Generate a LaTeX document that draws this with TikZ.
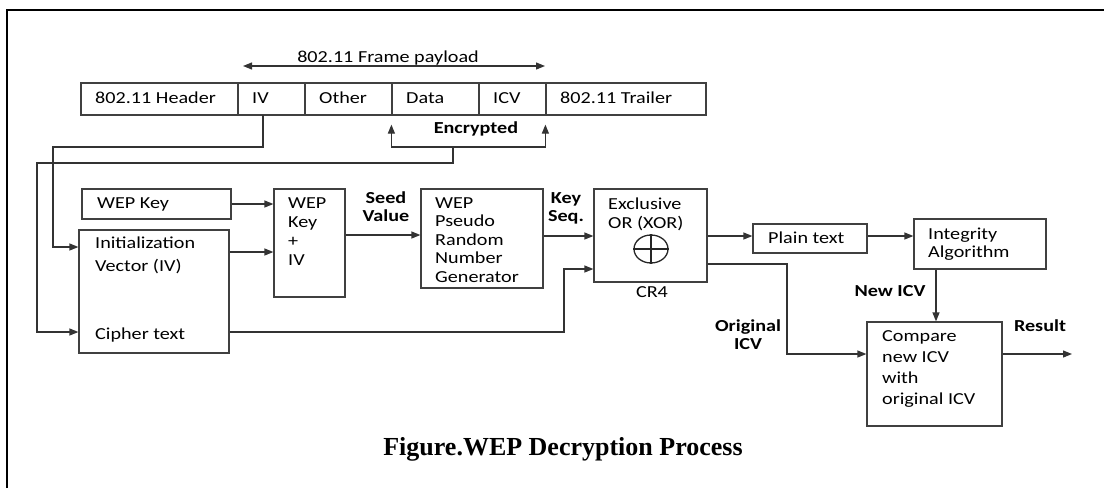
\documentclass[tikz,border=0pt]{standalone}
\usepackage{fontspec}
\setmainfont[FakeStretch=1.2]{Carlito}
\newfontfamily\capfont{Liberation Serif}
\usetikzlibrary{arrows.meta,shapes.geometric}
\begin{document}
\begin{tikzpicture}[x=1pt,y=-1pt,
  box/.style={draw=black!75, line width=1.2pt, rectangle, inner sep=0pt},
  conn/.style={draw=black!80, line width=1.2pt},
  arr/.style={conn, -{Triangle[length=9pt,width=7pt]}},
  darr/.style={conn, {Triangle[length=9pt,width=7pt]}-{Triangle[length=9pt,width=7pt]}},
  txt/.style={inner sep=0pt, anchor=west, align=left, font=\fontsize{16.8}{19}\selectfont},
  btxt/.style={inner sep=0pt, align=center, font=\bfseries\fontsize{16.8}{18}\selectfont},
]
\useasboundingbox (0,0) rectangle (1104,488);
% outer frame
\draw[line width=2pt, black] (7,488) -- (7,10) -- (1104,10);

% frame header row
\node[box, minimum width=157, minimum height=32] (h1) at (159.5,99) {};
\node[box, minimum width=67, minimum height=32] (h2) at (271.5,99) {};
\node[box, minimum width=87, minimum height=32] (h3) at (348.5,99) {};
\node[box, minimum width=87, minimum height=32] (h4) at (435.5,99) {};
\node[box, minimum width=67, minimum height=32] (h5) at (512.5,99) {};
\node[box, minimum width=160, minimum height=32] (h6) at (626,99) {};
\node[txt] (t1) at (95,98) {802.11 Header};
\node[txt] (t2) at (252,98) {IV};
\node[txt] (t3) at (319,98) {Other};
\node[txt] (t4) at (406,98) {Data};
\node[txt] (t5) at (493,98) {ICV};
\node[txt] (t6) at (560,98) {802.11 Trailer};

% payload arrow
\coordinate (pa) at (243,66);
\coordinate (pb) at (545,66);
\draw[darr] (pa) -- (pb);
\node[inner sep=0pt, font=\fontsize{16.8}{19}\selectfont] (pl) at (388,58) {802.11 Frame payload};

% encrypted bracket
\coordinate (ea) at ([yshift=-9pt]h4.south west);
\coordinate (eb) at ([yshift=-9pt]h6.south west);
\coordinate (bm) at (453,147);
\draw[arr] (bm) -| (ea);
\draw[arr] (bm) -| (eb);
\node[btxt] (enc) at (476,129) {Encrypted};

% boxes
\node[box, minimum width=149, minimum height=30] (wk) at (156.5,204) {};
\node[box, minimum width=150, minimum height=123] (init) at (154,291.5) {};
\node[box, minimum width=71, minimum height=108] (wkiv) at (309.5,243) {};
\node[box, minimum width=122, minimum height=99] (prng) at (482,238.5) {};
\node[box, minimum width=113, minimum height=93] (xor) at (650.5,235.5) {};
\node[box, minimum width=114, minimum height=29] (plain) at (810,238.5) {};
\node[box, minimum width=132, minimum height=50] (integ) at (980,244) {};
\node[box, minimum width=135, minimum height=104] (comp) at (934.5,374) {};

% texts in boxes
\node[txt] (wkt) at (97,204) {WEP Key};
\node[txt, font=\fontsize{16.8}{23}\selectfont] (initt) at (95,255.5) {Initialization\\Vector (IV)};
\node[txt] (ciph) at (95,335) {Cipher text};
\node[txt] (wkivt) at (288,231.5) {WEP\\Key\\+\\IV};
\node[txt, font=\fontsize{16.8}{18.5}\selectfont] (prngt) at (435,240) {WEP\\Pseudo\\Random\\Number\\Generator};
\node[txt] (xort) at (608,214.5) {Exclusive\\OR (XOR)};
\node[ellipse, draw=black!85, line width=1.3pt, minimum width=34pt, minimum height=28pt, inner sep=0pt] (xo) at (651,249) {};
\draw[draw=black!85, line width=1.3pt] (xo.north) -- (xo.south) (xo.west) -- (xo.east);
\node[inner sep=0pt, font=\fontsize{16.8}{19}\selectfont] (cr4) at (652,292) {CR4};
\node[txt] (plaint) at (768,238) {Plain text};
\node[txt, font=\fontsize{16.8}{18}\selectfont] (integt) at (928,244) {Integrity\\Algorithm};
\node[txt, font=\fontsize{16.8}{21}\selectfont] (compt) at (882,368.5) {Compare\\new ICV\\with\\original ICV};

% bold labels
\node[btxt] (seed) at (386,207) {Seed\\Value};
\node[btxt] (kseq) at (566,208) {Key\\Seq.};
\node[btxt] (newicv) at (890,291) {New ICV};
\node[btxt] (oicv) at (748,335) {Original\\ICV};
\node[btxt] (res) at (1040,326) {Result};

% helper coordinates
\coordinate (ivs) at (263,115);
\coordinate (cIV) at (53,147);
\coordinate (cCB) at (453,163);
\coordinate (cCL) at (37,163);
\coordinate (yIVin) at (0,247);
\coordinate (yCin) at (0,332);
\coordinate (yIV) at (0,252);
\coordinate (ySeed) at (0,235);
\coordinate (yKS) at (0,236);
\coordinate (cCT) at (564,269);
\coordinate (yPT) at (0,236);
\coordinate (yOI) at (0,264);
\coordinate (cOI) at (787,354);
\coordinate (xNI) at (936,0);
\coordinate (rend) at (1072,354);

% connectors
\draw[arr] (ivs) |- (cIV) |- (init.west |- yIVin);
\draw[arr] (bm) -- (cCB) -- (cCL) |- (init.west |- yCin);
\draw[arr] (wk.east) -- (wk.east -| wkiv.west);
\draw[arr] (init.east |- yIV) -- (wkiv.west |- yIV);
\draw[arr] (wkiv.east |- ySeed) -- (prng.west |- ySeed);
\draw[arr] (prng.east |- yKS) -- (xor.west |- yKS);
\draw[arr] (init.east |- yCin) -| (cCT) -- (xor.west |- cCT);
\draw[arr] (xor.east |- yPT) -- (plain.west |- yPT);
\draw[arr] (plain.east |- yPT) -- (integ.west |- yPT);
\draw[arr] (xor.east |- yOI) -| (cOI) -- (comp.west |- cOI);
\draw[arr] (integ.south -| xNI) -- (comp.north -| xNI);
\draw[arr] (comp.east |- cOI) -- (rend);

% caption
\node[inner sep=0pt, font=\capfont\bfseries\fontsize{26}{30}\selectfont] (cap) at (563,449) {Figure.WEP Decryption Process};
\end{tikzpicture}
\end{document}
